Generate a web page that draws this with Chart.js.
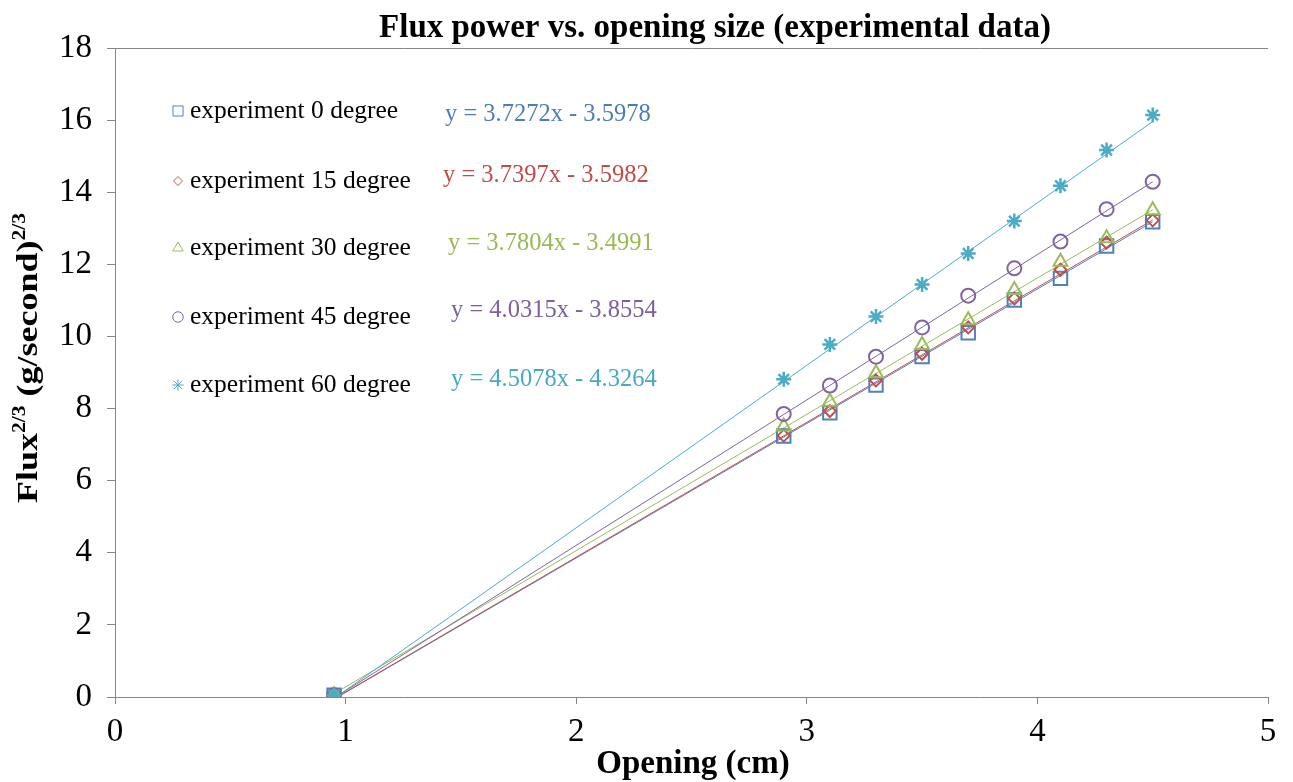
<!DOCTYPE html>
<html>
<head>
<meta charset="utf-8">
<script src="https://cdn.jsdelivr.net/npm/chart.js@4"></script>
<style>
  html, body { margin:0; padding:0; background:#fff; }
  #wrap { width:1293px; height:782px; position:relative; }
</style>
</head>
<body>
<div id="wrap"><canvas id="c"></canvas></div>
<script>
// opening size (cm) and flux^(2/3)
const openings = [0.95, 2.9, 3.1, 3.3, 3.5, 3.7, 3.9, 4.1, 4.3, 4.5];
const flux0  = [0.05, 7.24, 7.88, 8.65, 9.44, 10.10, 11.01, 11.61, 12.51, 13.18];
const flux15 = [0.05, 7.25, 7.93, 8.78, 9.52, 10.25, 11.05, 11.85, 12.60, 13.22];
const flux30 = [0.05, 7.50, 8.19, 8.98, 9.76, 10.45, 11.29, 12.07, 12.72, 13.50];
const flux45 = [0.05, 7.85, 8.64, 9.44, 10.25, 11.13, 11.89, 12.63, 13.53, 14.29];
const flux60 = [0.05, 8.81, 9.78, 10.55, 11.44, 12.30, 13.20, 14.18, 15.17, 16.14];

// trend line end points
const trendX  = [0.95, 4.5];
const trend0  = [-0.06, 13.18];
const trend15 = [-0.05, 13.23];
const trend30 = [0.09, 13.51];
const trend45 = [-0.03, 14.29];
const trend60 = [-0.04, 15.96];

const labels = ['experiment 0 degree','experiment 15 degree','experiment 30 degree','experiment 45 degree','experiment 60 degree'];
const equations = ['y = 3.7272x - 3.5978','y = 3.7397x - 3.5982','y = 3.7804x - 3.4991','y = 4.0315x - 3.8554','y = 4.5078x - 4.3264'];
const xTicks = [0, 1, 2, 3, 4, 5];
const yTicks = [0, 2, 4, 6, 8, 10, 12, 14, 16, 18];

const colors   = ['#4F81BD', '#C0504D', '#9BBB59', '#8064A2', '#4BACC6'];
const eqColors = ['#4a7ebb', '#be4b48', '#98b954', '#7d60a0', '#46aac5'];
const styles   = ['rect', 'rectRot', 'triangle', 'circle', 'star'];
const radii    = [9.5, 6, 8, 7, 7.5];

const series = [flux0, flux15, flux30, flux45, flux60];
const trends = [trend0, trend15, trend30, trend45, trend60];
const pts = (xs, ys) => xs.map((x, i) => ({ x: x, y: ys[i] }));

const datasets = [];
series.forEach((s, i) => {
  datasets.push({
    label: labels[i], data: pts(openings, s), showLine: false,
    pointStyle: styles[i], pointRadius: radii[i], pointBorderWidth: i === 4 ? 2.5 : 2,
    pointBorderColor: colors[i], pointBackgroundColor: 'rgba(0,0,0,0)',
    order: 10 - i
  });
});
trends.forEach((t, i) => {
  datasets.push({
    label: 'trend ' + i, data: pts(trendX, t), showLine: true,
    borderColor: colors[i], borderWidth: 1, pointRadius: 0, order: 20 - i
  });
});

const serif = '"Liberation Serif", "Times New Roman", serif';

const decor = {
  id: 'decor',
  afterDraw(chart) {
    const { ctx, chartArea: a } = chart;
    ctx.save();
    // top border
    ctx.strokeStyle = '#868686'; ctx.lineWidth = 1;
    ctx.beginPath(); ctx.moveTo(a.left, a.top + 0.5); ctx.lineTo(a.right, a.top + 0.5); ctx.stroke();

    // title
    ctx.fillStyle = '#000'; ctx.textAlign = 'center'; ctx.textBaseline = 'alphabetic';
    ctx.font = 'bold 33px ' + serif;
    ctx.fillText('Flux power vs. opening size (experimental data)', 715, 37);

    // x title
    ctx.fillText('Opening (cm)', 693, 773);

    // y title with superscripts
    ctx.save();
    ctx.translate(37, 358); ctx.rotate(-Math.PI / 2); ctx.scale(1.2, 1);
    const parts = [['Flux', 30, 0], ['2/3', 18, -12], [' (g/second)', 30, 0], ['2/3', 18, -12]];
    let total = 0;
    parts.forEach(p => { ctx.font = 'bold ' + p[1] + 'px ' + serif; total += ctx.measureText(p[0]).width; });
    let x = -total / 2; ctx.textAlign = 'left';
    parts.forEach(p => { ctx.font = 'bold ' + p[1] + 'px ' + serif; ctx.fillText(p[0], x, p[2]); x += ctx.measureText(p[0]).width; });
    ctx.restore();

    // legend and equations
    const rowY = [111, 181, 248, 317, 385];
    const eqY = [115, 176, 244, 311, 380];
    const eqX = [445, 443, 448, 451, 451];
    ctx.textBaseline = 'middle'; ctx.textAlign = 'left';
    labels.forEach((l, i) => {
      ctx.strokeStyle = colors[i]; ctx.fillStyle = 'rgba(0,0,0,0)'; ctx.lineWidth = 1;
      Chart.helpers.drawPoint(ctx, { pointStyle: styles[i], radius: radii[i] * 0.75, rotation: 0, borderWidth: 1 }, 178, rowY[i]);
      ctx.fillStyle = '#000'; ctx.font = '25.5px ' + serif;
      ctx.fillText(l, 190, rowY[i]);
      ctx.fillStyle = eqColors[i]; ctx.font = '24.5px ' + serif;
      ctx.fillText(equations[i], eqX[i], eqY[i]);
    });
    ctx.restore();
  }
};

new Chart(document.getElementById('c'), {
  type: 'scatter',
  data: { datasets: datasets },
  options: {
    responsive: true, maintainAspectRatio: false, animation: false,
    layout: { padding: { top: 48, right: 25, left: 0, bottom: 0 } },
    plugins: { legend: { display: false }, tooltip: { enabled: false }, title: { display: false } },
    scales: {
      x: {
        type: 'linear', min: 0, max: 5,
        afterBuildTicks: s => { s.ticks = xTicks.map(v => ({ value: v })); },
        afterFit: s => { s.height = 85; },
        border: { color: '#868686', width: 1 },
        grid: { drawOnChartArea: false, drawTicks: true, tickLength: 7, color: '#868686' },
        ticks: { color: '#000', font: { family: serif, size: 33 }, padding: 9, maxRotation: 0 }
      },
      y: {
        type: 'linear', min: 0, max: 18,
        afterBuildTicks: s => { s.ticks = yTicks.map(v => ({ value: v })); },
        afterFit: s => { s.width = 115; },
        border: { color: '#868686', width: 1 },
        grid: { drawOnChartArea: false, drawTicks: true, tickLength: 8, color: '#868686' },
        ticks: { color: '#000', font: { family: serif, size: 33 }, padding: 15 }
      }
    }
  },
  plugins: [decor]
});
</script>
</body>
</html>
